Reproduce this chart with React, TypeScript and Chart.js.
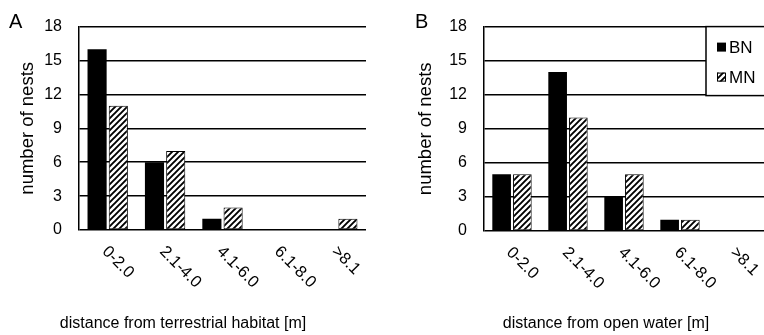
import React, { useEffect, useRef } from "react";
import { Chart, registerables } from "chart.js";
Chart.register(...registerables);

const categories = ["0-2.0", "2.1-4.0", "4.1-6.0", "6.1-8.0", ">8.1"];
const seriesNames = ["BN", "MN"];
const terrestrialBN = [16, 6, 1, 0, 0];
const terrestrialMN = [11, 7, 2, 0, 1];
const waterBN = [5, 14, 3, 1, 0];
const waterMN = [5, 10, 5, 1, 0];
const yMin = 0;
const yMax = 18;
const yStep = 3;
const yTitle = "number of nests";
const xTitleA = "distance from terrestrial habitat [m]";
const xTitleB = "distance from open water [m]";

const FONT = "'Liberation Sans', Arial, sans-serif";

function makeHatch(): CanvasPattern | string {
  const c = document.createElement("canvas");
  const p = 6;
  c.width = p;
  c.height = p;
  const g = c.getContext("2d");
  if (!g) return "#fff";
  g.fillStyle = "#fff";
  g.fillRect(0, 0, p, p);
  g.strokeStyle = "#000";
  g.lineWidth = 1.9;
  g.beginPath();
  g.moveTo(-1, p + 1);
  g.lineTo(p + 1, -1);
  g.moveTo(-1, 1);
  g.lineTo(1, -1);
  g.moveTo(p - 1, p + 1);
  g.lineTo(p + 1, p - 1);
  g.stroke();
  const pat = g.createPattern(c, "repeat");
  return pat || "#fff";
}

type PanelProps = {
  left: number;
  width: number;
  bn: number[];
  mn: number[];
  letter: string;
  letterX: number;
  xTitle: string;
  xTitleCenter: number;
  padTop: number;
  padBottom: number;
  padRight: number;
  yWidth: number;
  yTitlePad: number;
  legend: boolean;
};

function Panel(props: PanelProps) {
  const ref = useRef<HTMLCanvasElement | null>(null);
  useEffect(() => {
    const canvas = ref.current;
    if (!canvas) return;
    const hatch = makeHatch();
    const extras = {
      id: "extras",
      afterDraw(chart: any) {
        const { ctx, chartArea } = chart;
        const xs = chart.scales.x;
        ctx.save();
        ctx.fillStyle = "#000";
        // panel letter
        ctx.font = `20px ${FONT}`;
        ctx.textAlign = "left";
        ctx.textBaseline = "alphabetic";
        ctx.fillText(props.letter, props.letterX, 28);
        // rotated category labels
        ctx.font = `16.5px ${FONT}`;
        categories.forEach((c, i) => {
          const x = xs.getPixelForValue(i);
          ctx.save();
          ctx.translate(x - 3, chartArea.bottom + 19);
          ctx.rotate(Math.PI / 4);
          ctx.textAlign = "left";
          ctx.textBaseline = "middle";
          ctx.fillText(c, 0, 0);
          ctx.restore();
        });
        // x title
        ctx.font = `16px ${FONT}`;
        ctx.textAlign = "center";
        ctx.textBaseline = "middle";
        ctx.fillText(props.xTitle, props.xTitleCenter, 324);
        // legend
        if (props.legend) {
          const r = chartArea.right;
          const t = chartArea.top;
          const l = r - 58;
          const h = 69;
          ctx.fillStyle = "#fff";
          ctx.fillRect(l, t, 70, h);
          ctx.strokeStyle = "#000";
          ctx.lineWidth = 1.5;
          ctx.strokeRect(l, t, 70, h);
          const fills = ["#000", hatch];
          seriesNames.forEach((name, i) => {
            const cy = t + 21 + i * 30;
            ctx.fillStyle = fills[i];
            ctx.fillRect(l + 11, cy - 5, 9, 9);
            if (i === 1) {
              ctx.lineWidth = 1;
              ctx.strokeRect(l + 11.5, cy - 4.5, 8, 8);
            }
            ctx.fillStyle = "#000";
            ctx.font = `17px ${FONT}`;
            ctx.textAlign = "left";
            ctx.textBaseline = "middle";
            ctx.fillText(name, l + 23, cy + 1);
          });
        }
        ctx.restore();
      },
    };
    const chart = new Chart(canvas, {
      type: "bar",
      data: {
        labels: categories,
        datasets: [
          {
            label: seriesNames[0],
            data: props.bn,
            backgroundColor: "#000",
            borderWidth: 0,
            categoryPercentage: 0.74,
            barPercentage: 0.9,
          },
          {
            label: seriesNames[1],
            data: props.mn,
            backgroundColor: hatch as any,
            borderColor: "#000",
            borderWidth: 1,
            borderSkipped: false,
            categoryPercentage: 0.74,
            barPercentage: 0.9,
          },
        ],
      },
      options: {
        responsive: false,
        animation: false,
        events: [],
        layout: {
          padding: { top: props.padTop, bottom: props.padBottom, left: 0, right: props.padRight },
        },
        plugins: { legend: { display: false }, tooltip: { enabled: false }, title: { display: false } },
        scales: {
          x: {
            grid: { display: false },
            border: { display: false },
            ticks: { display: false },
            afterFit: (s: any) => {
              s.height = 0;
            },
          },
          y: {
            min: yMin,
            max: yMax,
            ticks: {
              stepSize: yStep,
              color: "#000",
              font: { family: FONT, size: 16 },
              padding: 17,
            },
            grid: { color: "#000", lineWidth: 1.5, drawTicks: false },
            border: { display: true, color: "#000", width: 1.5 },
            title: {
              display: true,
              text: yTitle,
              color: "#000",
              font: { family: FONT, size: 18.5 },
              padding: { top: props.yTitlePad, bottom: 0 },
            },
            afterFit: (s: any) => {
              s.width = props.yWidth;
            },
          },
        },
      },
      plugins: [extras],
    });
    return () => chart.destroy();
  }, []);
  return (
    <canvas
      ref={ref}
      width={props.width}
      height={335}
      style={{ position: "absolute", left: props.left, top: 0 }}
    />
  );
}

export default function App() {
  return (
    <div style={{ position: "fixed", left: 0, top: 0, width: 764, height: 335, background: "#fff", overflow: "hidden" }}>
      <Panel
        left={0}
        width={382}
        bn={terrestrialBN}
        mn={terrestrialMN}
        letter="A"
        letterX={9}
        xTitle={xTitleA}
        xTitleCenter={183}
        padTop={25}
        padBottom={105}
        padRight={16}
        yWidth={79}
        yTitlePad={16.9}
        legend={false}
      />
      <Panel
        left={382}
        width={382}
        bn={waterBN}
        mn={waterMN}
        letter="B"
        letterX={33}
        xTitle={xTitleB}
        xTitleCenter={224}
        padTop={24}
        padBottom={104}
        padRight={0}
        yWidth={102}
        yTitlePad={33.2}
        legend={true}
      />
    </div>
  );
}
